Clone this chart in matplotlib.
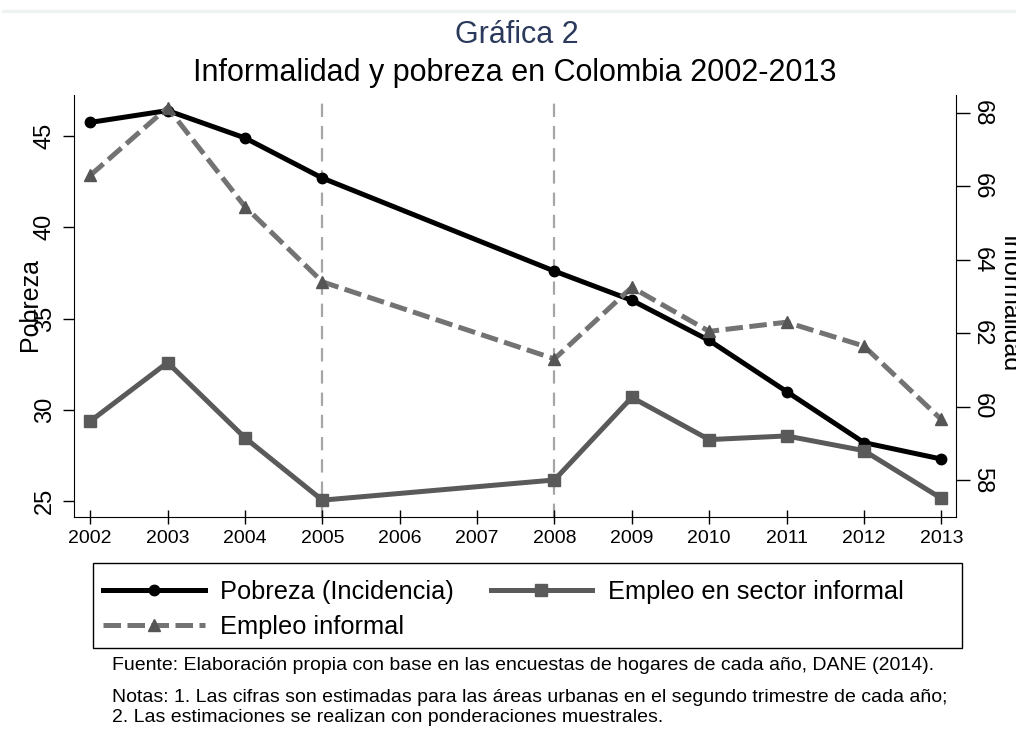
import matplotlib
matplotlib.use("Agg")
import matplotlib.pyplot as plt
from matplotlib.lines import Line2D
from matplotlib.patches import Rectangle

plt.rcParams['font.family'] = ['Liberation Sans', 'DejaVu Sans']

# data
years = [2002, 2003, 2004, 2005, 2008, 2009, 2010, 2011, 2012, 2013]
pobreza = [45.75, 46.4, 44.9, 42.7, 37.6, 36.0, 33.8, 31.0, 28.2, 27.3]
sector_informal = [59.6, 61.2, 59.15, 57.45, 58.0, 60.25, 59.1, 59.2, 58.8, 57.5]
empleo_informal = [66.3, 68.15, 65.45, 63.4, 61.3, 63.25, 62.05, 62.3, 61.65, 59.65]
xticks = list(range(2002, 2014))
left_ticks = [25, 30, 35, 40, 45]
right_ticks = [58, 60, 62, 64, 66, 68]
ref_years = [2005, 2008]

fig = plt.figure(figsize=(10.16, 7.49), dpi=100)
ax = fig.add_axes([0.0728, 0.3097, 0.8681, 0.5634])
ax2 = ax.twinx()

# reference lines
for yr in ref_years:
    ax.axvline(yr, ymin=0, ymax=0.985, color='#a6a6a6', lw=1.6, dashes=(6, 4), zorder=1)

l1, = ax.plot(years, pobreza, color='black', lw=3.6, marker='o', ms=7.5,
              label='Pobreza (Incidencia)', zorder=5)
l2, = ax2.plot(years, sector_informal, color='#5a5a5a', lw=3.6, marker='s', ms=8,
               label='Empleo en sector informal', zorder=4)
l3, = ax2.plot(years, empleo_informal, color='#737373', lw=3.6, marker='^', ms=8.5,
               mfc='#555555', mec='#555555', dashes=(3.5, 1.3),
               label='Empleo informal', zorder=3)

ax.set_xlim(2001.79, 2013.19)
ax.set_ylim(24.12, 47.25)
ax2.set_ylim(56.99, 68.49)
ax.set_xticks(xticks)
ax.set_yticks(left_ticks)
ax2.set_yticks(right_ticks)

for a in (ax, ax2):
    a.spines['top'].set_visible(False)
ax.spines['right'].set_visible(False)
ax2.spines['left'].set_visible(False)
ax2.spines['bottom'].set_visible(False)

ax.tick_params(axis='x', direction='inout', length=10, width=1, labelsize=14, pad=4)
ax.tick_params(axis='y', direction='out', length=8, width=1, labelsize=17, pad=5)
ax2.tick_params(axis='y', direction='out', length=10, width=1, labelsize=17, pad=1)
for lab in ax.get_yticklabels():
    lab.set_rotation(90)
    lab.set_va('center')
for lab in ax2.get_yticklabels():
    lab.set_rotation(-90)
    lab.set_va('center')

fig.text(0.0295, 0.594, 'Pobreza', rotation=90, fontsize=18, ha='center', va='center')
fig.text(0.993, 0.594, 'Informalidad', rotation=-90, fontsize=18, ha='center', va='center')

fig.text(0.509, 1 - 35 / 749, 'Gráfica 2', fontsize=22, color='#2b3a5c', ha='center', va='center')
fig.text(0.507, 1 - 73 / 749, 'Informalidad y pobreza en Colombia 2002-2013', fontsize=22,
         ha='center', va='center')

# legend
fig.patches.append(Rectangle((93 / 1016, 1 - 648 / 749), 869 / 1016, 85 / 749,
                             transform=fig.transFigure, fill=False, ec='black', lw=1))
fig.legend([l1, l3, l2], [l1.get_label(), l3.get_label(), l2.get_label()],
           ncol=2, frameon=False, fontsize=18.3, loc='upper left',
           bbox_to_anchor=(103 / 1016, 1 - 580 / 749), borderpad=0, borderaxespad=0,
           handlelength=4.0, handletextpad=0.6, columnspacing=1.45, labelspacing=0.42)

fig.text(0.110, 1 - 665 / 749,
         'Fuente: Elaboración propia con base en las encuestas de hogares de cada año, DANE (2014).',
         fontsize=14, va='center')
fig.text(0.110, 1 - 698 / 749,
         'Notas: 1. Las cifras son estimadas para las áreas urbanas en el segundo trimestre de cada año;',
         fontsize=14, va='center')
fig.text(0.110, 1 - 718 / 749,
         '2. Las estimaciones se realizan con ponderaciones muestrales.',
         fontsize=14, va='center')

fig.add_artist(Line2D([0.003, 1.0], [1 - 11 / 749, 1 - 11 / 749], color='#eef2f2', lw=2.5))

fig.savefig('out.png', dpi=100)
